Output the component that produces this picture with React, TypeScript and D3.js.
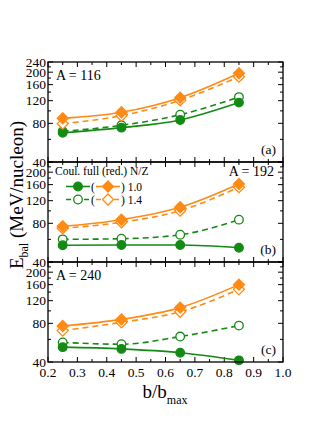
import React from "react";
import * as d3 from "d3";

const bValues = [0.25, 0.45, 0.65, 0.85];

// Panel (a) A = 116
const a116Full10 = [67.5, 74, 85, 116];
const a116Red10 = [87.5, 97.5, 126.6, 196];
const a116Full14 = [69.3, 77.2, 93.4, 128];
const a116Red14 = [79.5, 91.7, 120.8, 184.5];
// Panel (b) A = 192
const a192Full10 = [54, 54.2, 54.2, 51.7];
const a192Red10 = [75.8, 85.4, 106.6, 161.8];
const a192Full14 = [60, 60.7, 65.2, 85.4];
const a192Red14 = [73.2, 81.5, 100.3, 153];
// Panel (c) A = 240
const a240Full10 = [52.2, 50.6, 47.2, 41.2];
const a240Red10 = [76.2, 85.8, 106, 160];
const a240Full14 = [56.8, 55, 63.1, 76.8];
const a240Red14 = [70.2, 81.4, 98.4, 147];

const panelNames = ["A = 116", "A = 192", "A = 240"];
const panelTags = ["(a)", "(b)", "(c)"];
const xTickLabels = [0.2, 0.3, 0.4, 0.5, 0.6, 0.7, 0.8, 0.9, 1.0];
const yMajorTicks = [40, 80, 120, 160, 200, 240];
const yMinorTicks = [60, 100, 140, 180, 220];

const GREEN = "#148a14";
const ORANGE = "#ff8a14";
const FONT = "'Liberation Serif', 'Times New Roman', serif";

const panels = [
  { full10: a116Full10, red10: a116Red10, full14: a116Full14, red14: a116Red14 },
  { full10: a192Full10, red10: a192Red10, full14: a192Full14, red14: a192Red14 },
  { full10: a240Full10, red10: a240Red10, full14: a240Full14, red14: a240Red14 },
];

const X0 = 48;
const X1 = 283;
const TOP = 62;
const PH = 100;

const x = d3.scaleLinear().domain([0.2, 1.0]).range([X0, X1]);

function diamondPath(cx: number, cy: number, r: number) {
  return `M${cx},${cy - r}L${cx + r},${cy}L${cx},${cy + r}L${cx - r},${cy}Z`;
}

function Series({ vals, y, color, dashed, marker, filled }: any) {
  const line = d3
    .line<number>()
    .x((_, i) => x(bValues[i]))
    .y((d) => y(d))
    .curve(d3.curveMonotoneX);
  return (
    <g>
      <path
        d={line(vals) || ""}
        fill="none"
        stroke={color}
        strokeWidth={1.6}
        strokeDasharray={dashed ? "6,4" : undefined}
      />
      {vals.map((v: number, i: number) =>
        marker === "circle" ? (
          <circle
            key={i}
            cx={x(bValues[i])}
            cy={y(v)}
            r={4.3}
            fill={filled ? color : "white"}
            stroke={color}
            strokeWidth={1.3}
          />
        ) : (
          <path
            key={i}
            d={diamondPath(x(bValues[i]), y(v), 5.5)}
            fill={filled ? color : "white"}
            stroke={color}
            strokeWidth={1.3}
          />
        )
      )}
    </g>
  );
}

function Panel({ idx }: { idx: number }) {
  const top = TOP + idx * PH;
  const bottom = top + PH;
  const y = d3.scaleLog().domain([40, 240]).range([bottom, top]);
  const p = panels[idx];
  const xMajor = d3.range(0.2, 1.0001, 0.1);
  const xMinor = d3.range(0.25, 1.0, 0.1);
  const ticks: JSX.Element[] = [];
  const ML = 5;
  const mL = 3;
  xMajor.forEach((t, i) => {
    ticks.push(<line key={"xb" + i} x1={x(t)} x2={x(t)} y1={bottom} y2={bottom - ML} />);
    ticks.push(<line key={"xt" + i} x1={x(t)} x2={x(t)} y1={top} y2={top + ML} />);
  });
  xMinor.forEach((t, i) => {
    ticks.push(<line key={"xbm" + i} x1={x(t)} x2={x(t)} y1={bottom} y2={bottom - mL} />);
    ticks.push(<line key={"xtm" + i} x1={x(t)} x2={x(t)} y1={top} y2={top + mL} />);
  });
  yMajorTicks.forEach((t, i) => {
    ticks.push(<line key={"yl" + i} x1={X0} x2={X0 + ML} y1={y(t)} y2={y(t)} />);
    ticks.push(<line key={"yr" + i} x1={X1} x2={X1 - ML} y1={y(t)} y2={y(t)} />);
  });
  yMinorTicks.forEach((t, i) => {
    ticks.push(<line key={"ylm" + i} x1={X0} x2={X0 + mL} y1={y(t)} y2={y(t)} />);
    ticks.push(<line key={"yrm" + i} x1={X1} x2={X1 - mL} y1={y(t)} y2={y(t)} />);
  });
  const labels = yMajorTicks.filter((t) => idx === 0 || t !== 240);
  return (
    <g>
      <g stroke="black" strokeWidth={1}>{ticks}</g>
      {labels.map((t) => (
        <text
          key={t}
          x={X0 - 2}
          y={y(t) + 4.5}
          textAnchor="end"
          fontFamily={FONT}
          fontSize={13.5}
        >
          {t}
        </text>
      ))}
      <Series vals={p.full14} y={y} color={GREEN} dashed marker="circle" filled={false} />
      <Series vals={p.full10} y={y} color={GREEN} marker="circle" filled />
      <Series vals={p.red14} y={y} color={ORANGE} dashed marker="diamond" filled={false} />
      <Series vals={p.red10} y={y} color={ORANGE} marker="diamond" filled />
      {idx === 1 ? (
        <text x={274} y={top + 14} textAnchor="end" fontFamily={FONT} fontSize={14}>
          {panelNames[idx]}
        </text>
      ) : (
        <text x={56} y={top + 18} fontFamily={FONT} fontSize={14}>
          {panelNames[idx]}
        </text>
      )}
      <text x={276} y={bottom - 8} textAnchor="end" fontFamily={FONT} fontSize={13.5}>
        {panelTags[idx]}
      </text>
      <rect x={X0} y={top} width={X1 - X0} height={PH} fill="none" stroke="black" strokeWidth={1.3} />
    </g>
  );
}

function Legend() {
  const r1 = 186.5;
  const r2 = 199.5;
  const fs = 11.5;
  return (
    <g fontFamily={FONT} fontSize={fs}>
      <text x={55} y={175}>Coul. full (red.) N/Z</text>
      <line x1={66} x2={90} y1={r1} y2={r1} stroke={GREEN} strokeWidth={1.6} />
      <circle cx={78} cy={r1} r={4.3} fill={GREEN} stroke={GREEN} strokeWidth={1.3} />
      <text x={91} y={r1 + 4}>(</text>
      <line x1={96} x2={120} y1={r1} y2={r1} stroke={ORANGE} strokeWidth={1.6} />
      <path d={diamondPath(108, r1, 5.5)} fill={ORANGE} stroke={ORANGE} strokeWidth={1.3} />
      <text x={121} y={r1 + 4}>) 1.0</text>
      <line x1={66} x2={90} y1={r2} y2={r2} stroke={GREEN} strokeWidth={1.6} strokeDasharray="5,4" />
      <circle cx={78} cy={r2} r={4.3} fill="white" stroke={GREEN} strokeWidth={1.3} />
      <text x={91} y={r2 + 4}>(</text>
      <line x1={96} x2={120} y1={r2} y2={r2} stroke={ORANGE} strokeWidth={1.6} strokeDasharray="5,4" />
      <path d={diamondPath(108, r2, 5.5)} fill="white" stroke={ORANGE} strokeWidth={1.3} />
      <text x={121} y={r2 + 4}>) 1.4</text>
    </g>
  );
}

export default function App() {
  const bottom = TOP + 3 * PH;
  return (
    <svg
      width={327}
      height={423}
      style={{ position: "absolute", left: 0, top: 0, background: "white" }}
    >
      <rect x={0} y={0} width={327} height={423} fill="white" />
      {[0, 1, 2].map((i) => (
        <Panel key={i} idx={i} />
      ))}
      <Legend />
      {xTickLabels.map((t) => (
        <text
          key={t}
          x={x(t)}
          y={bottom + 15}
          textAnchor="middle"
          fontFamily={FONT}
          fontSize={13.5}
        >
          {t.toFixed(1)}
        </text>
      ))}
      <text x={165} y={398} textAnchor="middle" fontFamily={FONT} fontSize={19}>
        b/b
        <tspan fontSize={12} dy={6}>max</tspan>
      </text>
      <text
        transform={`translate(23, 195) rotate(-90)`}
        textAnchor="middle"
        fontFamily={FONT}
        fontSize={19}
      >
        E<tspan fontSize={12} dy={5}>bal</tspan>
        <tspan dy={-5}> (MeV/nucleon)</tspan>
      </text>
    </svg>
  );
}
